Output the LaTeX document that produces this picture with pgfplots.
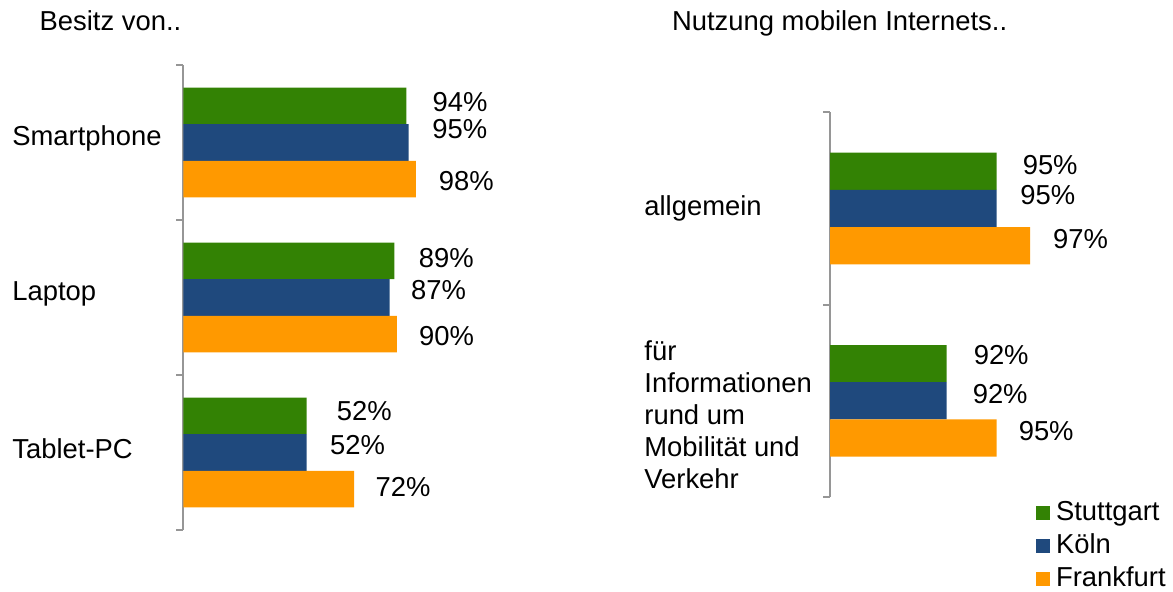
\documentclass[border=0pt]{standalone}
\usepackage{fontspec}
\setmainfont{Liberation Sans}
\usepackage{pgfplots}
\usepackage{pgfplotstable}
\pgfplotsset{compat=1.18}
\definecolor{cgreen}{RGB}{51,130,4}
\definecolor{cblue}{RGB}{31,73,125}
\definecolor{corange}{RGB}{255,153,0}
\definecolor{caxis}{RGB}{150,150,150}

% columns: y = category position, x = value (%), dx/dy = label offsets (pt)
\pgfplotstableread{
y x dx dy
2 94 13.0 1.8
1 89 12.0 1.25
0 52 14.85 2.25
}\LG
\pgfplotstableread{
y x dx dy
2 95 11.65 6.5
1 87 10.5 3.5
0 52 11.5 3.5
}\LB
\pgfplotstableread{
y x dx dy
2 98 11.35 -0.75
1 90 11.0 -1.0
0 72 10.5 1.25
}\LO
\pgfplotstableread{
y x dx dy
1 95 12.85 3.3
0 92 13.35 4.5
}\RG
\pgfplotstableread{
y x dx dy
1 95 11.65 6.5
0 92 12.85 3.25
}\RB
\pgfplotstableread{
y x dx dy
1 97 11.35 3.35
0 95 10.85 3.5
}\RO

\pgfplotsset{
  mybars/.style={
    xbar, scale only axis, clip=false,
    axis x line=none, axis y line*=left,
    y axis line style={caxis, line width=1pt},
    major tick length=0pt, minor tick length=3.5pt,
    minor y tick style={caxis, line width=1pt},
    tick align=outside,
    point meta=explicit,
    nodes near coords={\pgfmathprintnumber[assume math mode=true]{\pgfplotspointmeta}\%},
    visualization depends on={\thisrow{dx}\as\dx},
    visualization depends on={\thisrow{dy}\as\dy},
    nodes near coords style={anchor=west, inner sep=0pt, xshift=\dx pt, yshift=\dy pt, text=black},
    yticklabel style={anchor=west, inner sep=0pt, align=left, text=black},
  }
}

\begin{document}
\begin{tikzpicture}[font=\fontsize{13.7pt}{16pt}\selectfont]
\useasboundingbox (0,0) rectangle (586.5pt,-296pt);

\begin{axis}[mybars, bar width=18.3pt,
  at={(91.75pt,-32.5pt)}, anchor=north west,
  width=118.5pt, height=232.5pt,
  xmin=0, xmax=100, ymin=-0.5, ymax=2.5,
  ytick={0,1,2}, yticklabels={Tablet-PC,Laptop,Smartphone},
  minor ytick={-0.5,0.5,1.5,2.5},
  yticklabel style={xshift=-85.75pt, yshift=2pt}]
\addplot[fill=cgreen, draw=none, bar shift=18.3pt] table[x=x, y=y, meta=x]{\LG};
\addplot[fill=cblue, draw=none, bar shift=0pt] table[x=x, y=y, meta=x]{\LB};
\addplot[fill=corange, draw=none, bar shift=-18.3pt] table[x=x, y=y, meta=x]{\LO};
\end{axis}

\begin{axis}[mybars, bar width=18.6pt,
  at={(415pt,-56.15pt)}, anchor=north west,
  width=125pt, height=192.35pt,
  xmin=0, xmax=15, ymin=-0.5, ymax=1.5,
  ytick={1}, yticklabels={allgemein},
  extra y ticks={0},
  extra y tick labels={{für\\Informationen\\rund um\\Mobilität und\\Verkehr}},
  extra y tick style={yticklabel style={yshift=-7pt}},
  minor ytick={-0.5,0.5,1.5},
  yticklabel style={xshift=-93pt},
  legend style={at={(axis description cs:0.824,-0.008)}, anchor=north west,
    draw=none, fill=none, inner sep=0pt, outer sep=0pt, row sep=3.5pt,
    nodes={inner xsep=3pt, inner ysep=0pt, text height=10pt, text depth=3pt}},
  legend cell align=left,
  legend image code/.code={\fill[#1] (0pt,-3.5pt) rectangle (7pt,3.5pt);}]
\addplot[fill=cgreen, draw=none, bar shift=18.6pt] table[x expr=\thisrow{x}-85, y=y, meta=x]{\RG};
\addplot[fill=cblue, draw=none, bar shift=0pt] table[x expr=\thisrow{x}-85, y=y, meta=x]{\RB};
\addplot[fill=corange, draw=none, bar shift=-18.6pt] table[x expr=\thisrow{x}-85, y=y, meta=x]{\RO};
\legend{Stuttgart,Köln,Frankfurt}
\end{axis}

\node[anchor=base west, inner sep=0pt] at (19.65pt,-15.5pt) {Besitz von..};
\node[anchor=base west, inner sep=0pt] at (335.85pt,-15.5pt) {Nutzung mobilen Internets..};
\end{tikzpicture}
\end{document}
